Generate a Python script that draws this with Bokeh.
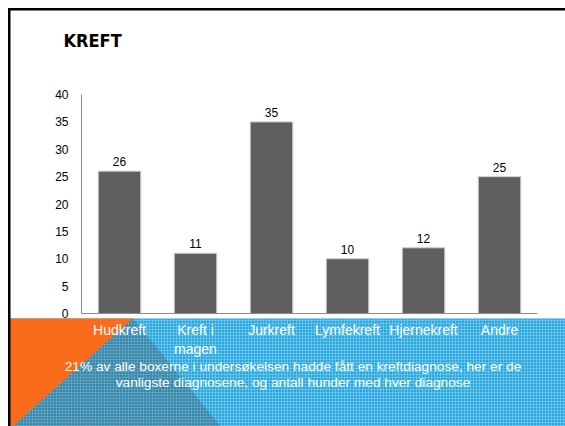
from bokeh.plotting import figure
from bokeh.models import Range1d, ColumnDataSource, FixedTicker, Label
from bokeh.core.properties import value
from bokeh.embed import file_html
from bokeh.resources import INLINE

# ---- data ----
categories = ["Hudkreft", "Kreft i\nmagen", "Jurkreft", "Lymfekreft", "Hjernekreft", "Andre"]
counts = [26, 11, 35, 10, 12, 25]
y_ticks = [0, 5, 10, 15, 20, 25, 30, 35, 40]
title_text = "KREFT"
caption_text = ("21% av alle boxerne i undersøkelsen hadde fått en kreftdiagnose, her er de\n"
                "vanligste diagnosene, og antall hunder med hver diagnose")

# ---- layout (canvas pixels) ----
W, H = 565, 426
FL, FR, FT, FB = 81, 537, 94, 313          # plot area inside the slide
YMAX = 40
n = len(categories)
ppx = (FR - FL) / n
ppy = (FB - FT) / YMAX
idx = list(range(n))

p = figure(width=W, height=H,
           x_range=Range1d(-0.5 - FL / ppx, n - 0.5 + (W - FR) / ppx),
           y_range=Range1d(-(H - FB) / ppy, YMAX + FT / ppy),
           output_backend="svg", toolbar_location=None, min_border=0)
p.outline_line_color = None
p.background_fill_color = "white"
p.border_fill_color = "white"
p.xgrid.visible = False
p.ygrid.visible = False

# pixel helper ranges for the decorative slide shapes
p.extra_x_ranges = {"px": Range1d(0, W)}
p.extra_y_ranges = {"py": Range1d(H, 0)}

# ---- background band ----
p.quad(left=9, right=W + 10, top=318, bottom=H + 10, x_range_name="px", y_range_name="py",
       fill_color="#2aa8de", line_color=None,
       hatch_pattern="+", hatch_scale=3, hatch_color="#86d2f2", hatch_alpha=0.55, hatch_weight=1,
       level="underlay")
p.patch(x=[9, 132.5, 9.8, 9], y=[318, 318, 428, 428], x_range_name="px", y_range_name="py",
        fill_color="#fa6b1c", line_color=None, level="underlay")
p.patch(x=[132.5, 9.8, 221.6], y=[318, 428, 428], x_range_name="px", y_range_name="py",
        fill_color="#2d8ab3", line_color=None,
        hatch_pattern="+", hatch_scale=3, hatch_color="#86a9b8", hatch_alpha=0.55, hatch_weight=1,
        level="underlay")

# ---- bars ----
source = ColumnDataSource(dict(x=idx, count=counts, label=[str(c) for c in counts]))
p.vbar(x="x", top="count", width=0.56, source=source,
       fill_color="#5f5f5f", line_color="#cfcfcf", line_width=1)
p.text(x="x", y="count", text="label", source=source, y_offset=-5,
       text_align="center", text_baseline="bottom",
       text_font=value("Liberation Sans"), text_font_size="12px", text_color="#000000")

# ---- axes (placed inside the full-canvas frame) ----
ya = p.yaxis[0]
ya.fixed_location = -0.5
ya.bounds = (0, YMAX)
ya.ticker = FixedTicker(ticks=y_ticks)
ya.axis_line_color = "#8c8c8c"
ya.major_tick_line_color = None
ya.minor_tick_line_color = None
ya.major_tick_out = 0
ya.major_tick_in = 0
ya.major_label_standoff = 13
ya.major_label_text_font = "Liberation Sans"
ya.major_label_text_font_size = "12px"
ya.major_label_text_color = "#000000"

xa = p.xaxis[0]
xa.fixed_location = 0
xa.bounds = (-0.5, n - 0.5)
xa.ticker = FixedTicker(ticks=idx)
xa.major_label_overrides = {i: c for i, c in zip(idx, categories)}
xa.axis_line_color = "#8c8c8c"
xa.major_tick_line_color = None
xa.minor_tick_line_color = None
xa.major_tick_out = 0
xa.major_tick_in = 0
xa.major_label_standoff = 8
xa.major_label_text_font = "Liberation Sans"
xa.major_label_text_font_size = "14px"
xa.major_label_text_color = "white"

# ---- texts ----
p.add_layout(Label(x=63, y=40, x_range_name="px", y_range_name="py", text=title_text,
                   text_font="'DejaVu Sans Condensed', 'Liberation Sans'", text_font_style="bold",
                   text_font_size="18px",
                   text_baseline="alphabetic", text_color="#000000", level="overlay"))
p.add_layout(Label(x=292.5, y=358, x_range_name="px", y_range_name="py", text=caption_text,
                   text_font="Liberation Sans", text_font_size="13.7px", text_align="center",
                   text_baseline="top", text_line_height=1.1, text_color="white", level="overlay"))

# ---- slide border ----
p.quad(left=7.5, right=10, top=7.5, bottom=H + 10, x_range_name="px", y_range_name="py",
       fill_color="black", line_color=None, level="overlay")
p.quad(left=7.5, right=W + 10, top=7.5, bottom=10, x_range_name="px", y_range_name="py",
       fill_color="black", line_color=None, level="overlay")

open("out.html", "w").write(file_html(p, INLINE))
